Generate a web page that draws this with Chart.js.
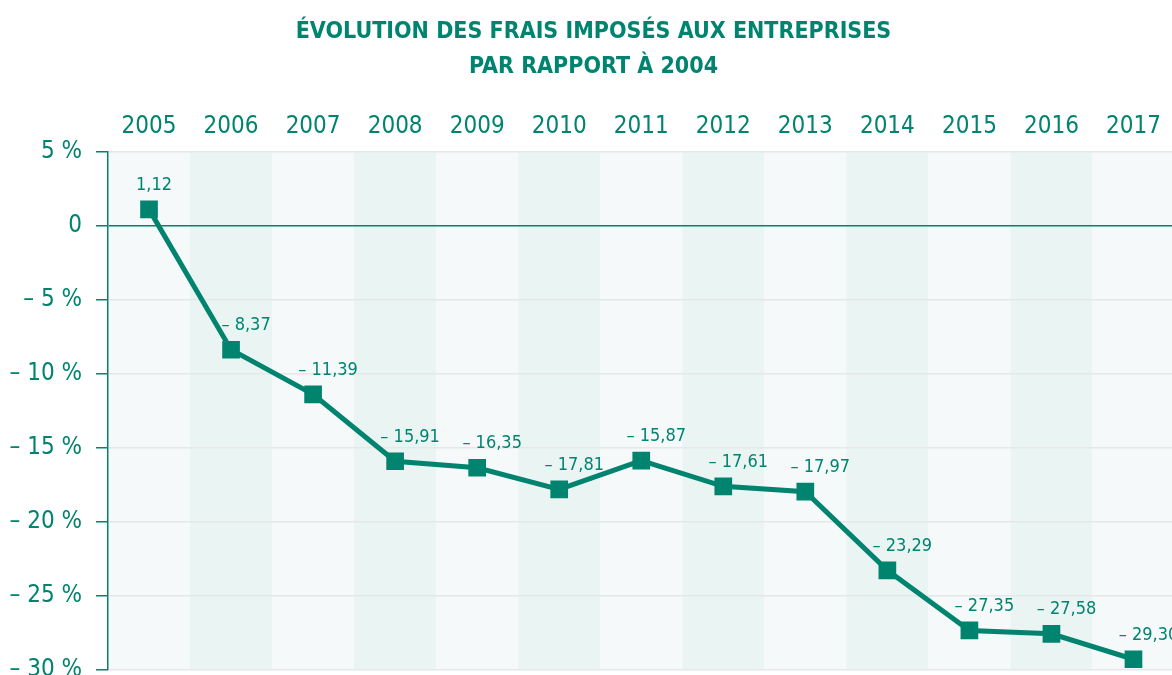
<!DOCTYPE html>
<html>
<head>
<meta charset="utf-8">
<script src="https://cdn.jsdelivr.net/npm/chart.js@4/dist/chart.umd.min.js"></script>
<style>
  html, body { margin: 0; padding: 0; background: #fff; overflow: hidden; }
  #wrap { position: absolute; left: 0; top: 0; width: 1187px; height: 698px; }
</style>
</head>
<body>
<div id="wrap"><canvas id="myChart"></canvas></div>
<script>
var years = ['2005', '2006', '2007', '2008', '2009', '2010', '2011', '2012', '2013', '2014', '2015', '2016', '2017'];
var values = [1.12, -8.37, -11.39, -15.91, -16.35, -17.81, -15.87, -17.61, -17.97, -23.29, -27.35, -27.58, -29.30];
var yTicks = [5, 0, -5, -10, -15, -20, -25, -30];

var teal = '#00846f';
var fontFam = '"Liberation Sans Narrow", "DejaVu Sans Condensed", "Open Sans", sans-serif';

function frNum(v) {
    var s = Math.abs(v).toFixed(2).replace('.', ',');
    return v < 0 ? '\u2013 ' + s : s;
}

// alternating column background
var columnShade = {
    id: 'columnShade',
    beforeDraw: function (chart) {
        var c = chart.ctx, a = chart.chartArea, x = chart.scales.x;
        var w = (a.right - a.left) / years.length;
        c.save();
        years.forEach(function (_, i) {
            var cx = x.getPixelForValue(i);
            c.fillStyle = i % 2 ? '#eaf4f2' : '#f5f9fa';
            c.fillRect(cx - w / 2, a.top, w, a.bottom - a.top);
        });
        c.restore();
    }
};

// value labels above the points
var pointLabels = {
    id: 'pointLabels',
    afterDatasetsDraw: function (chart) {
        var c = chart.ctx;
        var meta = chart.getDatasetMeta(0);
        c.save();
        c.font = '18px ' + fontFam;
        c.fillStyle = teal;
        c.textAlign = 'center';
        c.textBaseline = 'middle';
        meta.data.forEach(function (pt, i) {
            var dx = i === 0 ? 5 : 15;
            c.fillText(frNum(values[i]), pt.x + dx, pt.y - 24);
        });
        c.restore();
    }
};

var ctx = document.getElementById('myChart').getContext('2d');
var myChart = new Chart(ctx, {
    type: 'line',
    data: {
        labels: years,
        datasets: [{
            data: values,
            borderColor: teal,
            backgroundColor: teal,
            borderWidth: 5,
            pointStyle: 'rect',
            pointRadius: 12.5,
            pointHoverRadius: 12.5,
            pointBorderWidth: 0,
            tension: 0
        }]
    },
    options: {
        responsive: true,
        maintainAspectRatio: false,
        animation: false,
        layout: {
            padding: { top: 0, right: 0, bottom: 0, left: 0 }
        },
        plugins: {
            legend: { display: false },
            tooltip: { enabled: false },
            title: {
                display: true,
                text: ['ÉVOLUTION DES FRAIS IMPOSÉS AUX ENTREPRISES', 'PAR RAPPORT À 2004'],
                color: teal,
                font: { family: fontFam, size: 23, weight: 'bold', lineHeight: 1.5 },
                padding: { top: 15, bottom: 0 }
            }
        },
        scales: {
            x: {
                position: 'top',
                offset: true,
                grid: { display: false },
                border: { display: false },
                ticks: {
                    color: teal,
                    font: { family: fontFam, size: 24 },
                    padding: 3,
                    maxRotation: 0
                },
                afterFit: function (scale) { scale.height = 68; }
            },
            y: {
                min: -30,
                max: 5,
                afterBuildTicks: function (scale) {
                    scale.ticks = yTicks.map(function (v) { return { value: v }; });
                },
                grid: {
                    color: function (context) {
                        return context.tick && context.tick.value === 0 ? teal : '#e4e8ea';
                    },
                    lineWidth: 1.5,
                    tickColor: teal,
                    tickLength: 12,
                    drawTicks: true
                },
                border: { display: true, color: teal, width: 1.5 },
                ticks: {
                    color: teal,
                    font: { family: fontFam, size: 24 },
                    padding: 14,
                    callback: function (v) {
                        if (v === 0) return '0';
                        return (v < 0 ? '\u2013 ' : '') + Math.abs(v) + ' %';
                    }
                },
                afterFit: function (scale) { scale.width = 108; }
            }
        }
    },
    plugins: [columnShade, pointLabels]
});
</script>
</body>
</html>
